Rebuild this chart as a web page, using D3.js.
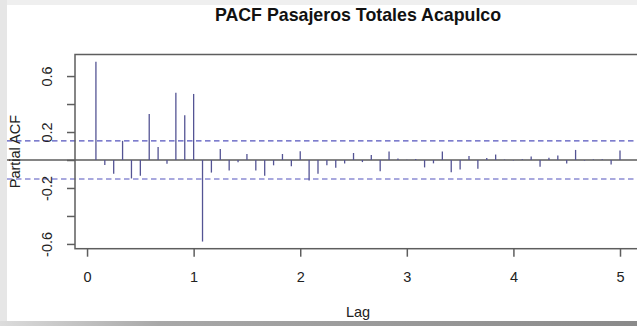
<!DOCTYPE html>
<html>
<head>
<meta charset="utf-8">
<script src="https://cdn.jsdelivr.net/npm/d3@7"></script>
<style>
html,body{margin:0;padding:0;background:#fff;}
svg{display:block;font-family:"Liberation Sans",Arial,sans-serif;}
</style>
</head>
<body>
<svg id="chart" width="637" height="326"></svg>
<script>
// ---- data ----
const title = "PACF Pasajeros Totales Acapulco";
const xLabel = "Lag";
const yLabel = "Partial ACF";
const lagMonths = [1,2,3,4,5,6,7,8,9,10,11,12,13,14,15,16,17,18,19,20,
  21,22,23,24,25,26,27,28,29,30,31,32,33,34,35,36,37,38,39,40,
  41,42,43,44,45,46,47,48,49,50,51,52,53,54,55,56,57,58,59,60];
const pacfValues = [0.702,-0.036,-0.098,0.137,-0.132,-0.112,0.329,0.093,-0.027,0.480,
  0.320,0.472,-0.583,-0.090,0.079,-0.075,-0.017,0.043,-0.075,-0.112,
  -0.038,0.043,-0.045,0.062,-0.147,-0.098,-0.038,-0.055,-0.025,0.050,
  -0.015,0.035,-0.081,0.061,0.010,0.002,0.008,-0.053,-0.024,0.061,
  -0.087,-0.068,0.029,-0.063,0.014,0.039,0.003,-0.003,0.006,0.025,
  -0.049,0.016,0.033,-0.025,0.072,-0.004,0.004,0.005,-0.032,0.067];
const frequency = 12;
const ciBound = 0.136;
const xTicks = [0,1,2,3,4,5];
const yTicks = [-0.6,-0.4,-0.2,0,0.2,0.4,0.6];
const yTickLabels = ["-0.6","","-0.2","","0.2","","0.6"];

// ---- layout ----
const svg = d3.select("#chart");
const W = 637, H = 326;
const box = {left:75, right:641, top:54.5, bottom:248.7};

// screenshot frame
svg.append("rect").attr("x",0).attr("y",0).attr("width",W).attr("height",H).attr("fill","#ffffff");
svg.append("rect").attr("x",0).attr("y",0).attr("width",W).attr("height",5).attr("fill","#efefef");
svg.append("rect").attr("x",0).attr("y",0).attr("width",7).attr("height",H).attr("fill","#e6e6e6");
const defs = svg.append("defs");
const grad = defs.append("linearGradient").attr("id","bot").attr("x1","0").attr("x2","1");
grad.append("stop").attr("offset","0").attr("stop-color","#dcdcdc");
grad.append("stop").attr("offset","0.25").attr("stop-color","#a8a8a8");
grad.append("stop").attr("offset","1").attr("stop-color","#8a8a8a");
svg.append("rect").attr("x",0).attr("y",321).attr("width",W).attr("height",5).attr("fill","url(#bot)");

const x = d3.scaleLinear().domain([-0.113, 5.197]).range([box.left, box.right]);
const y = d3.scaleLinear().domain([-0.634, 0.754]).range([box.bottom, box.top]);

const data = lagMonths.map((m,i)=>({lag:m/frequency, v:pacfValues[i]}));

// zero line and confidence bounds (extend into margin)
svg.append("line").attr("x1",7).attr("x2",W).attr("y1",y(0)).attr("y2",y(0))
  .attr("stroke","#5c5c5c").attr("stroke-width",1.4);
[ciBound,-ciBound].forEach(c=>{
  svg.append("line").attr("x1",7).attr("x2",W).attr("y1",y(c)).attr("y2",y(c))
    .attr("stroke","#5353bd").attr("stroke-width",1.2).attr("stroke-dasharray","5.5,3.5");
});

// spikes
svg.append("g").selectAll("line").data(data).join("line")
  .attr("x1",d=>x(d.lag)).attr("x2",d=>x(d.lag))
  .attr("y1",y(0)).attr("y2",d=>y(d.v))
  .attr("stroke","#545494").attr("stroke-width",1.3);

// box
svg.append("rect").attr("x",box.left).attr("y",box.top)
  .attr("width",box.right-box.left).attr("height",box.bottom-box.top)
  .attr("fill","none").attr("stroke","#5e5e5e").attr("stroke-width",1.5);

// x axis
const xAxis = d3.axisBottom(x).tickValues(xTicks).tickSize(8).tickPadding(15).tickFormat(d3.format("d"));
const gx = svg.append("g").attr("transform",`translate(0,${box.bottom})`).call(xAxis);
gx.select(".domain").remove();
gx.selectAll(".tick line").attr("stroke","#5e5e5e").attr("stroke-width",1.5);
gx.selectAll(".tick text").attr("font-size",14.5).attr("fill","#222")
  .attr("font-family","'Liberation Sans',Arial,sans-serif");

// y axis
const yAxis = d3.axisLeft(y).tickValues(yTicks).tickSize(8)
  .tickFormat((d,i)=>yTickLabels[i]);
const gy = svg.append("g").attr("transform",`translate(${box.left},0)`).call(yAxis);
gy.select(".domain").remove();
gy.selectAll(".tick line").attr("stroke","#5e5e5e").attr("stroke-width",1.5);
gy.selectAll(".tick text").attr("font-size",14.5).attr("fill","#222")
  .attr("font-family","'Liberation Sans',Arial,sans-serif")
  .attr("text-anchor","middle").attr("x",0).attr("dy",0)
  .attr("transform","translate(-28,0) rotate(-90)")
  .attr("dominant-baseline","central");

// title
svg.append("text").attr("x",(box.left+box.right)/2).attr("y",21)
  .attr("text-anchor","middle").attr("font-size",17.8).attr("font-weight","bold")
  .attr("fill","#111").text(title);

// axis labels
svg.append("text").attr("x",(box.left+box.right)/2).attr("y",317)
  .attr("text-anchor","middle").attr("font-size",14.5).attr("fill","#222").text(xLabel);
svg.append("text").attr("transform",`translate(15,${(box.top+box.bottom)/2}) rotate(-90)`)
  .attr("text-anchor","middle").attr("dominant-baseline","central")
  .attr("font-size",14.5).attr("fill","#222").text(yLabel);
</script>
</body>
</html>
